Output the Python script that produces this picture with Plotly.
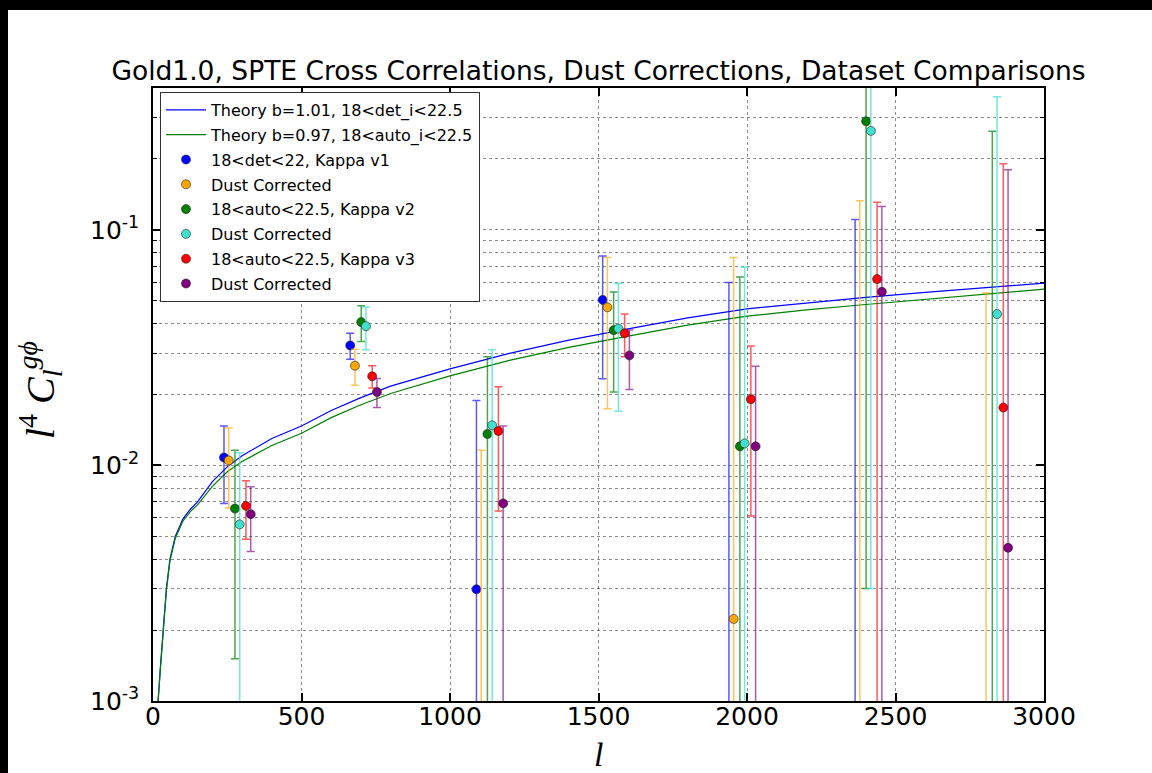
import plotly.graph_objects as go

# ---------------- data ----------------
ell_bins = [239, 664, 1089, 1514, 1939, 2364, 2789]

series_names = ["18<det<22, Kappa v1", "Dust Corrected", "18<auto<22.5, Kappa v2",
                "Dust Corrected", "18<auto<22.5, Kappa v3", "Dust Corrected"]
series_shift = [0, 16, 37, 53, 74, 90]
series_colors = ["#0000ff", "#ffa500", "#008000", "#40e0d0", "#ff0000", "#800080"]
series_err_colors = ["rgba(0,0,255,0.65)", "rgba(255,165,0,0.65)", "rgba(0,128,0,0.7)",
                     "rgba(64,224,208,0.75)", "rgba(255,0,0,0.65)", "rgba(128,0,128,0.65)"]

v1_val = [0.0108, 0.0323, 0.00298, 0.0504, -0.010, -0.015, None]
v1_err = [0.0039, 0.0041, 0.0159, 0.0271, 0.0697, 0.1255, None]
v1d_val = [0.0105, 0.0265, -0.002, 0.0469, 0.00223, -0.020, -0.025]
v1d_err = [0.0039, 0.0046, 0.0136, 0.0295, 0.074, 0.153, 0.079]
v2_val = [0.00656, 0.0406, 0.0136, 0.0375, 0.01205, 0.289, -0.040]
v2_err = [0.00505, 0.0070, 0.0153, 0.0170, 0.051, 0.286, 0.302]
v2d_val = [0.00562, 0.0390, 0.0148, 0.0381, 0.0124, 0.263, 0.0439]
v2d_err = [0.0057, 0.0080, 0.0162, 0.0211, 0.057, 0.260, 0.323]
v3_val = [0.00673, 0.0239, 0.0140, 0.0364, 0.0191, 0.0618, 0.0176]
v3_err = [0.00187, 0.0026, 0.0076, 0.0075, 0.013, 0.069, 0.173]
v3d_val = [0.00621, 0.0205, 0.0069, 0.0293, 0.01205, 0.0546, 0.00447]
v3d_err = [0.0019, 0.0029, 0.0078, 0.0083, 0.0143, 0.071, 0.1755]

all_vals = [v1_val, v1d_val, v2_val, v2d_val, v3_val, v3d_val]
all_errs = [v1_err, v1d_err, v2_err, v2d_err, v3_err, v3d_err]

theory_ell = [10, 17, 25, 35, 45, 57, 75, 100, 125, 150, 200, 250, 300, 400, 500, 600, 700,
              800, 1000, 1200, 1400, 1600, 1800, 2000, 2200, 2400, 2600, 2800, 3000]
theory_b101 = [0.0006, 0.0010, 0.0014, 0.0021, 0.0030, 0.0040, 0.0050, 0.0059, 0.0065, 0.0070,
               0.00853, 0.00986, 0.0110, 0.0130, 0.0147, 0.0171, 0.0194, 0.0217, 0.0257,
               0.0299, 0.0340, 0.0380, 0.0423, 0.0462, 0.0490, 0.0517, 0.0543, 0.0570, 0.0594]
theory_b097 = [0.0006, 0.00098, 0.00137, 0.00206, 0.00294, 0.00392, 0.0049, 0.00578, 0.00635,
               0.00680, 0.00815, 0.00940, 0.01040, 0.01215, 0.01370, 0.01595, 0.0181, 0.0202,
               0.0240, 0.0279, 0.0317, 0.0354, 0.0394, 0.0430, 0.0457, 0.0482, 0.0507, 0.0534,
               0.0560]

y_ticks = [1e-3, 1e-2, 1e-1]
y_ticktext = ["10<sup>-3</sup>", "10<sup>-2</sup>", "10<sup>-1</sup>"]
x_ticks = [0, 500, 1000, 1500, 2000, 2500, 3000]

# ---------------- layout geometry ----------------
W, H = 1152, 773
ML, MR, MT, MB = 153, 108, 88, 72
PW, PH = W - ML - MR, H - MT - MB


def px_x(p):
    return (p - ML) / PW


def px_y(p):
    return 1 - (p - MT) / PH


FLOOR = 1e-7  # stand-in for non-positive values on log axis (marker off-scale)

fig = go.Figure()

fig.add_trace(go.Scatter(x=theory_ell, y=theory_b101, mode="lines",
                         line=dict(color="#0000ff", width=1.2),
                         name="Theory b=1.01, 18<det_i<22.5", legendgroup="t1"))
fig.add_trace(go.Scatter(x=theory_ell, y=theory_b097, mode="lines",
                         line=dict(color="#008000", width=1.2),
                         name="Theory b=0.97, 18<auto_i<22.5", legendgroup="t2"))

for i in range(6):
    xs, ys, ep, em = [], [], [], []
    for b, v, e in zip(ell_bins, all_vals[i], all_errs[i]):
        if v is None:
            continue
        yp = v if v > 0 else FLOOR
        xs.append(b + series_shift[i])
        ys.append(yp)
        ep.append(v + e - yp)
        em.append(yp - (v - e))
    fig.add_trace(go.Scatter(
        x=xs, y=ys, mode="markers", name=series_names[i], legendgroup="s%d" % i,
        marker=dict(color=series_colors[i], size=9, line=dict(color="#222222", width=0.6)),
        error_y=dict(type="data", symmetric=False, array=ep, arrayminus=em,
                     color=series_err_colors[i], thickness=1.5, width=4),
    ))

grid_col = "rgba(0,0,0,0.45)"
fig.update_xaxes(range=[0, 3000], tickmode="array", tickvals=x_ticks,
                 ticks="inside", ticklen=8, tickwidth=1.5, tickcolor="black",
                 showline=True, linecolor="black", linewidth=1.5, mirror="allticks",
                 showgrid=True, gridcolor=grid_col, griddash="dot", gridwidth=1,
                 zeroline=False, ticklabelstandoff=-8,
                 tickfont=dict(family="DejaVu Sans", size=25, color="black"))
fig.update_yaxes(type="log", range=[-3, -0.39794], tickmode="array", tickvals=y_ticks,
                 ticktext=y_ticktext,
                 ticks="inside", ticklen=8, tickwidth=1.5, tickcolor="black",
                 showline=True, linecolor="black", linewidth=1.5, mirror="allticks",
                 showgrid=True, gridcolor=grid_col, griddash="dot", gridwidth=1,
                 minor=dict(tickmode="array",
                            tickvals=[m * 10.0 ** e for e in (-3, -2, -1) for m in range(2, 10)],
                            ticks="inside", ticklen=4, tickwidth=1, tickcolor="black",
                            showgrid=True, gridcolor=grid_col, griddash="dot", gridwidth=1),
                 zeroline=False, ticklabelstandoff=7,
                 tickfont=dict(family="DejaVu Sans", size=25, color="black"))

fig.update_layout(
    width=W, height=H, autosize=False,
    margin=dict(l=ML, r=MR, t=MT, b=MB, pad=0),
    paper_bgcolor="white", plot_bgcolor="white",
    title=dict(text="Gold1.0, SPTE Cross Correlations, Dust Corrections, Dataset Comparisons",
               x=px_x(598.5), xref="paper", xanchor="center",
               y=(H - 71) / H, yref="container", yanchor="middle",
               font=dict(family="DejaVu Sans", size=26.5, color="black")),
    legend=dict(x=px_x(160), y=px_y(92), xanchor="left", yanchor="top",
                bgcolor="white", bordercolor="#333333", borderwidth=1,
                font=dict(family="DejaVu Sans", size=16, color="black"),
                tracegroupgap=1, itemwidth=40),
    showlegend=True,
    annotations=[
        dict(text="<i>l</i><sup>4</sup> <i>C</i><sub><i>l</i></sub><sup><i>gϕ</i></sup>",
             x=px_x(40), y=px_y(390), xref="paper", yref="paper", showarrow=False,
             xanchor="center", yanchor="middle",
             textangle=-90, font=dict(family="Liberation Serif", size=40, color="black")),
        dict(text="<i>l</i>", x=px_x(598.5), y=px_y(754), xref="paper", yref="paper",
             xanchor="center", yanchor="middle",
             showarrow=False, font=dict(family="Liberation Serif", size=34, color="black")),
    ],
    shapes=[
        dict(type="rect", xref="paper", yref="paper", x0=px_x(0), x1=px_x(W),
             y0=px_y(0), y1=px_y(10), fillcolor="black", line=dict(width=0), layer="above"),
        dict(type="rect", xref="paper", yref="paper", x0=px_x(0), x1=px_x(8),
             y0=px_y(0), y1=px_y(H), fillcolor="black", line=dict(width=0), layer="above"),
    ],
)

fig.write_html("out.html")
